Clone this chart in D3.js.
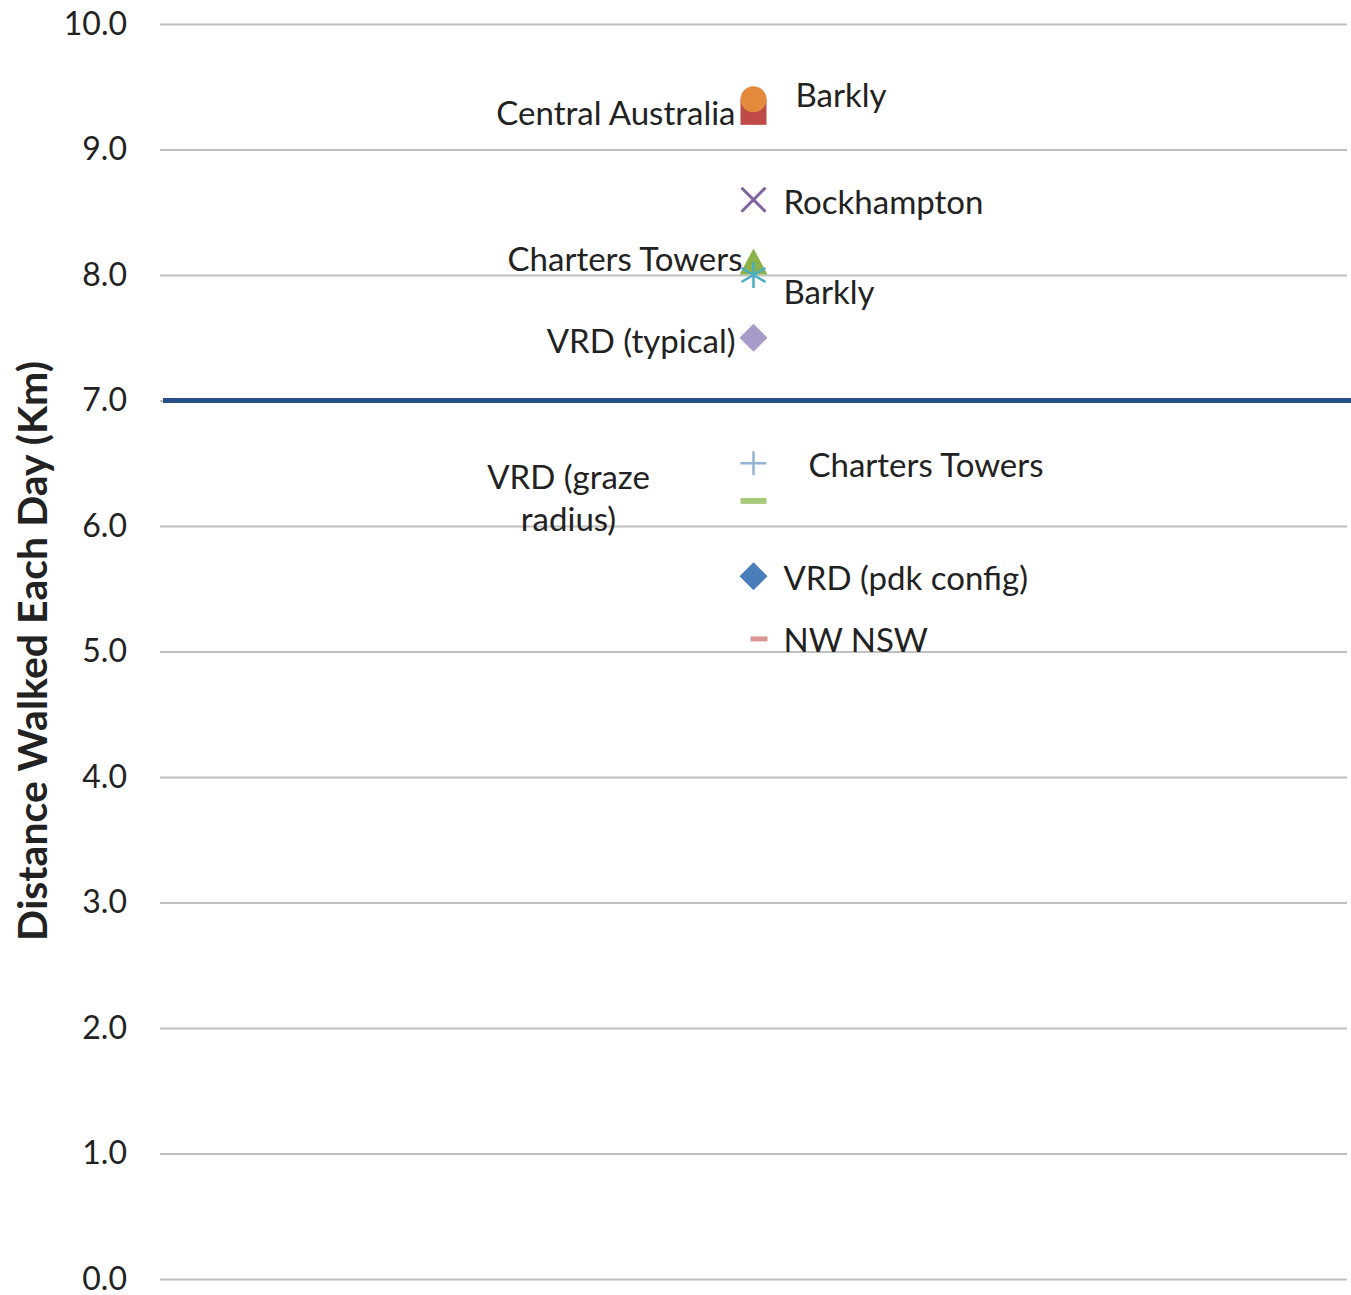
<!DOCTYPE html>
<html>
<head>
<meta charset="utf-8">
<script src="https://cdn.jsdelivr.net/npm/d3@7"></script>
<style>
  html, body { margin: 0; padding: 0; background: #fff; }
  svg { display: block; }
  text { font-family: Lato, "Open Sans", sans-serif; fill: #222; }
</style>
</head>
<body>
<svg id="chart" width="1351" height="1295"></svg>
<script>
// Daily walking distance by study site (km)
const sites = [
  "VRD (pdk config)", "NW NSW", "VRD (graze radius)", "VRD (typical)", "Barkly",
  "Charters Towers", "Rockhampton", "Central Australia", "Barkly", "Charters Towers"
];
const distances = [5.6, 5.1, 6.2, 7.5, 8.0, 8.1, 8.6, 9.3, 9.4, 6.5];
const markerShapes = ["diamond", "shortDash", "dash", "diamond", "asterisk",
  "triangle", "cross", "square", "circle", "plus"];
const markerColors = ["#4a7ebb", "#d99694", "#a9c97a", "#a99bc9", "#4bacc6",
  "#8cb34a", "#8064a2", "#be4b48", "#e38a3c", "#95b3d7"];
const yTicks = [0, 1, 2, 3, 4, 5, 6, 7, 8, 9, 10];
const threshold = 7.0;
const yTitle = "Distance Walked Each Day (Km)";

// Label placement relative to each marker: [dx, dy, anchor]
const labelPlacement = [
  [30, 2, "start"], [30, 1, "start"], [-185, 0, "middle"], [-18, 4, "end"],
  [30, 17, "start"], [-11, -3, "end"], [30, 3, "start"], [-18, 2, "end"],
  [42, -4, "start"], [55, 2, "start"]
];

const svg = d3.select("#chart");
const plotLeft = 160, plotRight = 1347, plotTop = 24, plotBottom = 1279;
const labelSize = 33;

const y = d3.scaleLinear().domain([0, 10]).range([plotBottom, plotTop]);
const x = d3.scaleLinear().domain([0, 2]).range([plotLeft, plotRight]);

// Horizontal gridlines with tick labels
const yAxis = d3.axisLeft(y)
  .tickValues(yTicks)
  .tickSize(-(plotRight - plotLeft))
  .tickPadding(33)
  .tickFormat(d3.format(".1f"));

const axisG = svg.append("g")
  .attr("transform", `translate(${plotLeft},0)`)
  .call(yAxis);
axisG.select(".domain").remove();
axisG.selectAll(".tick line")
  .attr("stroke", "#c0c0c0")
  .attr("stroke-width", 2);
axisG.selectAll(".tick text")
  .attr("font-family", "Lato, 'Open Sans', sans-serif")
  .attr("font-size", 32)
  .attr("fill", "#222");

// Reference line
svg.append("line")
  .attr("x1", 163).attr("x2", 1351)
  .attr("y1", y(threshold)).attr("y2", y(threshold))
  .attr("stroke", "#264f87")
  .attr("stroke-width", 5);

// Axis title
svg.append("text")
  .attr("transform", `translate(47,651) rotate(-90)`)
  .attr("text-anchor", "middle")
  .attr("font-size", 41)
  .attr("font-weight", "bold")
  .attr("fill", "#111")
  .text(yTitle);

// Marker drawing
function drawMarker(g, shape, color) {
  switch (shape) {
    case "circle":
      g.append("circle").attr("r", 13).attr("fill", color); break;
    case "square":
      g.append("rect").attr("x", -13).attr("y", -13).attr("width", 26).attr("height", 26).attr("fill", color); break;
    case "diamond":
      g.append("path").attr("d", "M0,-14L14,0L0,14L-14,0Z").attr("fill", color); break;
    case "triangle":
      g.append("path").attr("d", "M0,-14L14,12L-14,12Z").attr("fill", color); break;
    case "cross":
      g.append("path").attr("d", "M-12,-12L12,12M12,-12L-12,12").attr("stroke", color).attr("stroke-width", 3); break;
    case "plus":
      g.append("path").attr("d", "M-13,0L13,0M0,-12L0,12").attr("stroke", color).attr("stroke-width", 2.5); break;
    case "asterisk":
      g.append("path").attr("d", "M-12,-7L12,7M12,-7L-12,7M0,-13L0,13").attr("stroke", color).attr("stroke-width", 2.5); break;
    case "dash":
      g.append("rect").attr("x", -13).attr("y", -3).attr("width", 26).attr("height", 6).attr("fill", color); break;
    case "shortDash":
      g.append("rect").attr("x", -3).attr("y", -2.5).attr("width", 17).attr("height", 5).attr("fill", color); break;
  }
}

const points = sites.map((s, i) => ({
  site: s, value: distances[i], shape: markerShapes[i], color: markerColors[i], place: labelPlacement[i]
}));

// Draw order: lower-priority markers first so the circle sits above the square
const order = [0, 1, 2, 3, 5, 4, 6, 7, 8, 9];
order.forEach(i => {
  const p = points[i];
  const g = svg.append("g").attr("transform", `translate(${x(1)},${y(p.value)})`);
  drawMarker(g, p.shape, p.color);
});

// Data labels
points.forEach(p => {
  const [dx, dy, anchor] = p.place;
  const cx = x(1) + dx, cy = y(p.value) + dy;
  const t = svg.append("text")
    .attr("text-anchor", anchor)
    .attr("font-size", labelSize);
  if (p.site === "VRD (graze radius)") {
    t.append("tspan").attr("x", cx).attr("y", cy - 23).attr("dy", "0.35em").text("VRD (graze");
    t.append("tspan").attr("x", cx).attr("y", cy + 19).attr("dy", "0.35em").text("radius)");
  } else {
    t.attr("x", cx).attr("y", cy).attr("dy", "0.35em").text(p.site);
  }
});
</script>
</body>
</html>
